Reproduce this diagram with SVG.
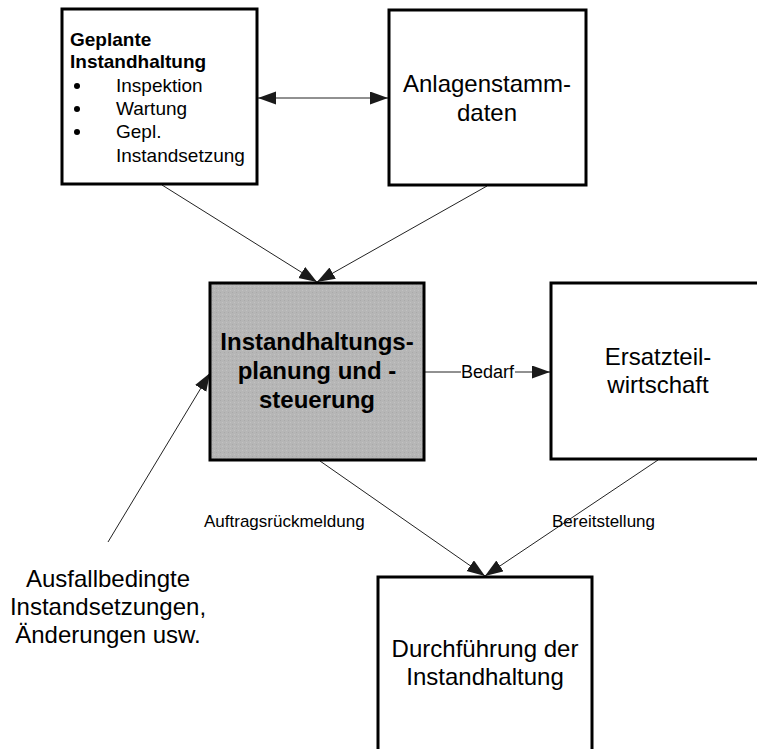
<svg xmlns="http://www.w3.org/2000/svg" width="757" height="749" viewBox="0 0 757 749">
<defs>
<marker id="ah" markerUnits="userSpaceOnUse" markerWidth="19" markerHeight="14" refX="18" refY="6.5" orient="auto-start-reverse">
<path d="M0,0 L18,6.5 L0,13 Z" fill="#1a1a1a"/>
</marker>
<pattern id="dots" width="4" height="4" patternUnits="userSpaceOnUse">
<rect width="4" height="4" fill="#b6b6b6"/>
<rect x="0" y="0" width="1" height="1" fill="#a9a9a9"/>
<rect x="2" y="2" width="1" height="1" fill="#c2c2c2"/>
</pattern>
</defs>
<style>
.box{fill:#fff;stroke:#000;stroke-width:3}
.conn{stroke:#222;stroke-width:1;fill:none}
text{font-family:"Liberation Sans",Arial,sans-serif;fill:#000}
.big{font-size:24px;text-anchor:middle}
.bold{font-weight:bold}
.lbl{font-size:17px}
.small{font-size:19px}
</style>
<rect width="757" height="749" fill="#fff"/>
<g id="connectors">
<line class="conn" x1="258" y1="98" x2="388" y2="98" marker-start="url(#ah)" marker-end="url(#ah)"/>
<line class="conn" x1="162" y1="185" x2="317" y2="282" marker-end="url(#ah)"/>
<line class="conn" x1="487" y1="186" x2="317" y2="282" marker-end="url(#ah)"/>
<line class="conn" x1="425" y1="372" x2="550" y2="372" marker-end="url(#ah)"/>
<rect x="461" y="362" width="54" height="20" fill="#fff"/>
<text x="487.5" y="378" text-anchor="middle" font-size="18">Bedarf</text>
<line class="conn" x1="108" y1="542" x2="210" y2="373" marker-end="url(#ah)"/>
<line class="conn" x1="320" y1="461" x2="485" y2="576" marker-end="url(#ah)"/>
<line class="conn" x1="658" y1="460" x2="485" y2="576" marker-end="url(#ah)"/>
<text class="lbl" x="204" y="527">Auftragsrückmeldung</text>
<text class="lbl" x="552" y="527">Bereitstellung</text>
</g>
<g id="geplante">
<rect class="box" x="62" y="9" width="195" height="175"/>
<text class="small bold" x="70" y="46">Geplante</text>
<text class="small bold" x="70" y="68">Instandhaltung</text>
<circle cx="77" cy="86" r="3" fill="#000"/>
<circle cx="77" cy="109" r="3" fill="#000"/>
<circle cx="77" cy="132" r="3" fill="#000"/>
<text class="small" x="116" y="92">Inspektion</text>
<text class="small" x="116" y="115">Wartung</text>
<text class="small" x="116" y="138">Gepl.</text>
<text class="small" x="116" y="162">Instandsetzung</text>
</g>
<g id="anlagen">
<rect class="box" x="389" y="10" width="197" height="175"/>
<text class="big" x="487" y="92">Anlagenstamm-</text>
<text class="big" x="487" y="121">daten</text>
</g>
<g id="planung">
<rect x="210" y="283" width="214" height="177" fill="url(#dots)" stroke="#000" stroke-width="3"/>
<text class="big bold" x="317" y="350" font-size="25">Instandhaltungs-</text>
<text class="big bold" x="317" y="379" font-size="25">planung und -</text>
<text class="big bold" x="317" y="408" font-size="25">steuerung</text>
</g>
<g id="ersatzteil">
<rect class="box" x="551" y="283" width="216" height="176"/>
<text class="big" x="658" y="365">Ersatzteil-</text>
<text class="big" x="658" y="393">wirtschaft</text>
</g>
<g id="durchfuehrung">
<rect class="box" x="378" y="577" width="214" height="190"/>
<text class="big" x="485" y="657">Durchführung der</text>
<text class="big" x="485" y="685">Instandhaltung</text>
</g>
<g id="ausfall">
<text class="big" x="108" y="587">Ausfallbedingte</text>
<text class="big" x="108" y="615">Instandsetzungen,</text>
<text class="big" x="108" y="643">Änderungen usw.</text>
</g>
</svg>
